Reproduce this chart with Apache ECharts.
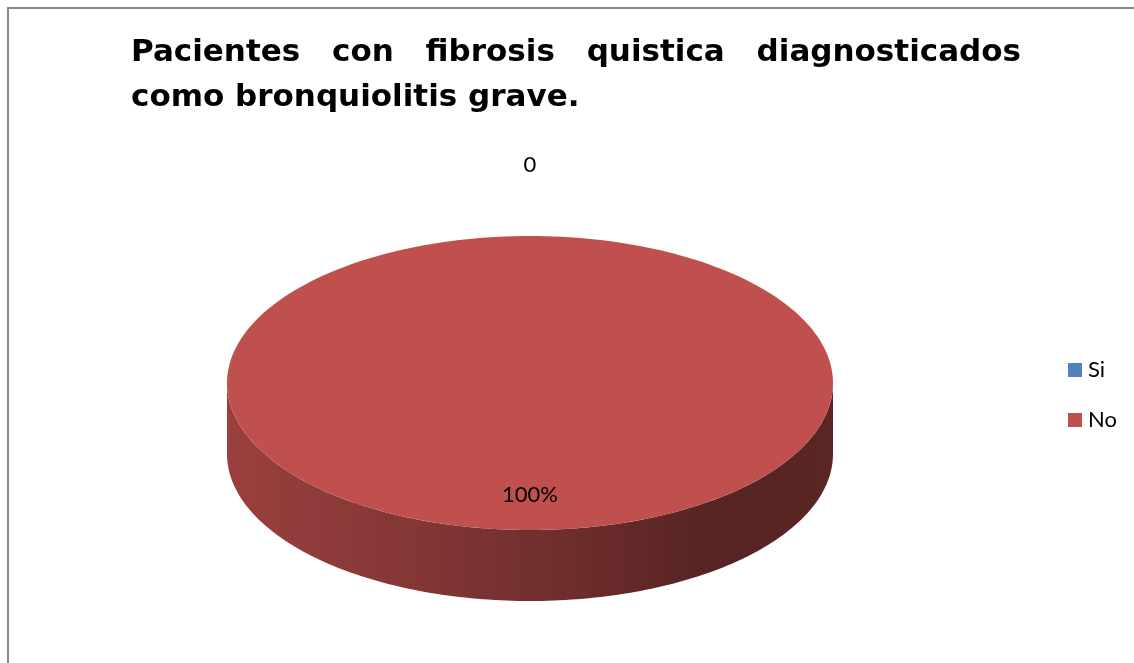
<!DOCTYPE html>
<html>
<head>
<meta charset="utf-8">
<script src="https://cdn.jsdelivr.net/npm/echarts@6/dist/echarts.min.js"></script>
<style>
html,body{margin:0;padding:0;background:#fff;}
#chart{width:1134px;height:663px;}
</style>
</head>
<body>
<div id="chart"></div>
<script>
// data
const categories = ['Si', 'No'];
const values = [0, 100];
const titleLine1 = ['Pacientes', 'con', 'fibrosis', 'quistica', 'diagnosticados'];
const titleLine2 = 'como bronquiolitis grave.';

// styles
const sliceColors = ['#4f81bd', '#c0504d'];
const titleFont = 'bold 31px "DejaVu Sans"';
const titleWidth = 890;

// 3d pie geometry
const pie = { cx: 530, cy: 383, rx: 303, ry: 147, depth: 71 };

// spread the first title line like the justified text of the original
let ctx = document.createElement('canvas').getContext('2d');
ctx.font = titleFont;
let wordsW = 0;
titleLine1.forEach(w => wordsW += ctx.measureText(w).width);
let gap = (titleWidth - wordsW) / (titleLine1.length - 1);

function shade(hex, f) {
    let n = parseInt(hex.slice(1), 16);
    let r = Math.round(((n >> 16) & 255) * f);
    let g = Math.round(((n >> 8) & 255) * f);
    let b = Math.round((n & 255) * f);
    return 'rgb(' + r + ',' + g + ',' + b + ')';
}

function pt(t, dy) {
    return [pie.cx + pie.rx * Math.cos(t), pie.cy + pie.ry * Math.sin(t) + dy];
}

function renderSlice(params, api) {
    let i = params.seriesIndex;
    let total = values.reduce((a, b) => a + b, 0);
    let before = 0;
    for (let k = 0; k < i; k++) before += values[k];
    let v = api.value(0);
    // excel starts at 12 o'clock and goes clockwise
    let a0 = -Math.PI / 2 + 2 * Math.PI * before / total;
    let a1 = a0 + 2 * Math.PI * v / total;
    let color = sliceColors[i];
    let children = [];

    // front wall
    [[0, Math.PI], [2 * Math.PI, 3 * Math.PI]].forEach(r => {
        let s = Math.max(a0, r[0]), e = Math.min(a1, r[1]);
        if (e <= s) return;
        let pts = [];
        let n = 160;
        for (let j = 0; j <= n; j++) pts.push(pt(s + (e - s) * j / n, 0));
        for (let j = n; j >= 0; j--) pts.push(pt(s + (e - s) * j / n, pie.depth));
        children.push({
            type: 'polygon',
            shape: { points: pts },
            style: {
                fill: {
                    type: 'linear', global: true,
                    x: pie.cx - pie.rx, y: 0, x2: pie.cx + pie.rx, y2: 0,
                    colorStops: [
                        { offset: 0, color: shade(color, 0.8) },
                        { offset: 0.3, color: shade(color, 0.69) },
                        { offset: 0.55, color: shade(color, 0.58) },
                        { offset: 0.8, color: shade(color, 0.45) },
                        { offset: 1, color: shade(color, 0.47) }
                    ]
                }
            }
        });
    });

    // top face
    if (a1 > a0) {
        let pts = [];
        let full = a1 - a0 >= 2 * Math.PI - 1e-9;
        if (!full) pts.push([pie.cx, pie.cy]);
        let n = 240;
        for (let j = 0; j <= n; j++) pts.push(pt(a0 + (a1 - a0) * j / n, 0));
        children.push({ type: 'polygon', shape: { points: pts }, style: { fill: color } });
    }

    // data label
    let mid = (a0 + a1) / 2;
    let lx, ly, txt;
    if (v === 0) {
        txt = String(v);
        lx = pie.cx + (pie.rx + 70) * Math.cos(mid);
        ly = pie.cy + (pie.ry + 71) * Math.sin(mid);
    } else {
        txt = Math.round(v / total * 100) + '%';
        lx = pie.cx + pie.rx * 0.76 * Math.cos(mid);
        ly = pie.cy + pie.ry * 0.76 * Math.sin(mid);
    }
    children.push({
        type: 'text', z2: 100,
        style: {
            x: lx, y: ly, text: txt, fill: '#000',
            font: '22px Lato', align: 'center', verticalAlign: 'middle'
        }
    });
    return { type: 'group', children: children };
}

let myChart = echarts.init(document.getElementById('chart'));
let option = {
    animation: false,
    color: sliceColors,
    title: {
        text: titleLine1.join('{g| }') + '\n' + titleLine2,
        left: 131,
        top: 30,
        padding: 0,
        textStyle: {
            fontFamily: 'DejaVu Sans',
            fontWeight: 'bold',
            fontSize: 31,
            lineHeight: 45,
            color: '#000',
            rich: {
                g: { width: gap, fontFamily: 'DejaVu Sans', fontWeight: 'bold', fontSize: 31, lineHeight: 45 }
            }
        }
    },
    legend: {
        data: categories,
        orient: 'vertical',
        left: 1063,
        top: 354,
        icon: 'rect',
        itemWidth: 14,
        itemHeight: 14,
        itemGap: 28,
        textStyle: { fontFamily: 'Lato', fontSize: 22, color: '#000', lineHeight: 20, padding: [0, 0, 0, 1] }
    },
    graphic: [{
        type: 'rect',
        shape: { x: 8, y: 8, width: 2000, height: 2000 },
        style: { fill: 'none', stroke: '#878787', lineWidth: 2 },
        silent: true
    }],
    series: categories.map((c, i) => ({
        name: c,
        type: 'custom',
        coordinateSystem: 'none',
        itemStyle: { color: sliceColors[i] },
        data: [[values[i]]],
        renderItem: renderSlice
    }))
};
myChart.setOption(option);
</script>
</body>
</html>
